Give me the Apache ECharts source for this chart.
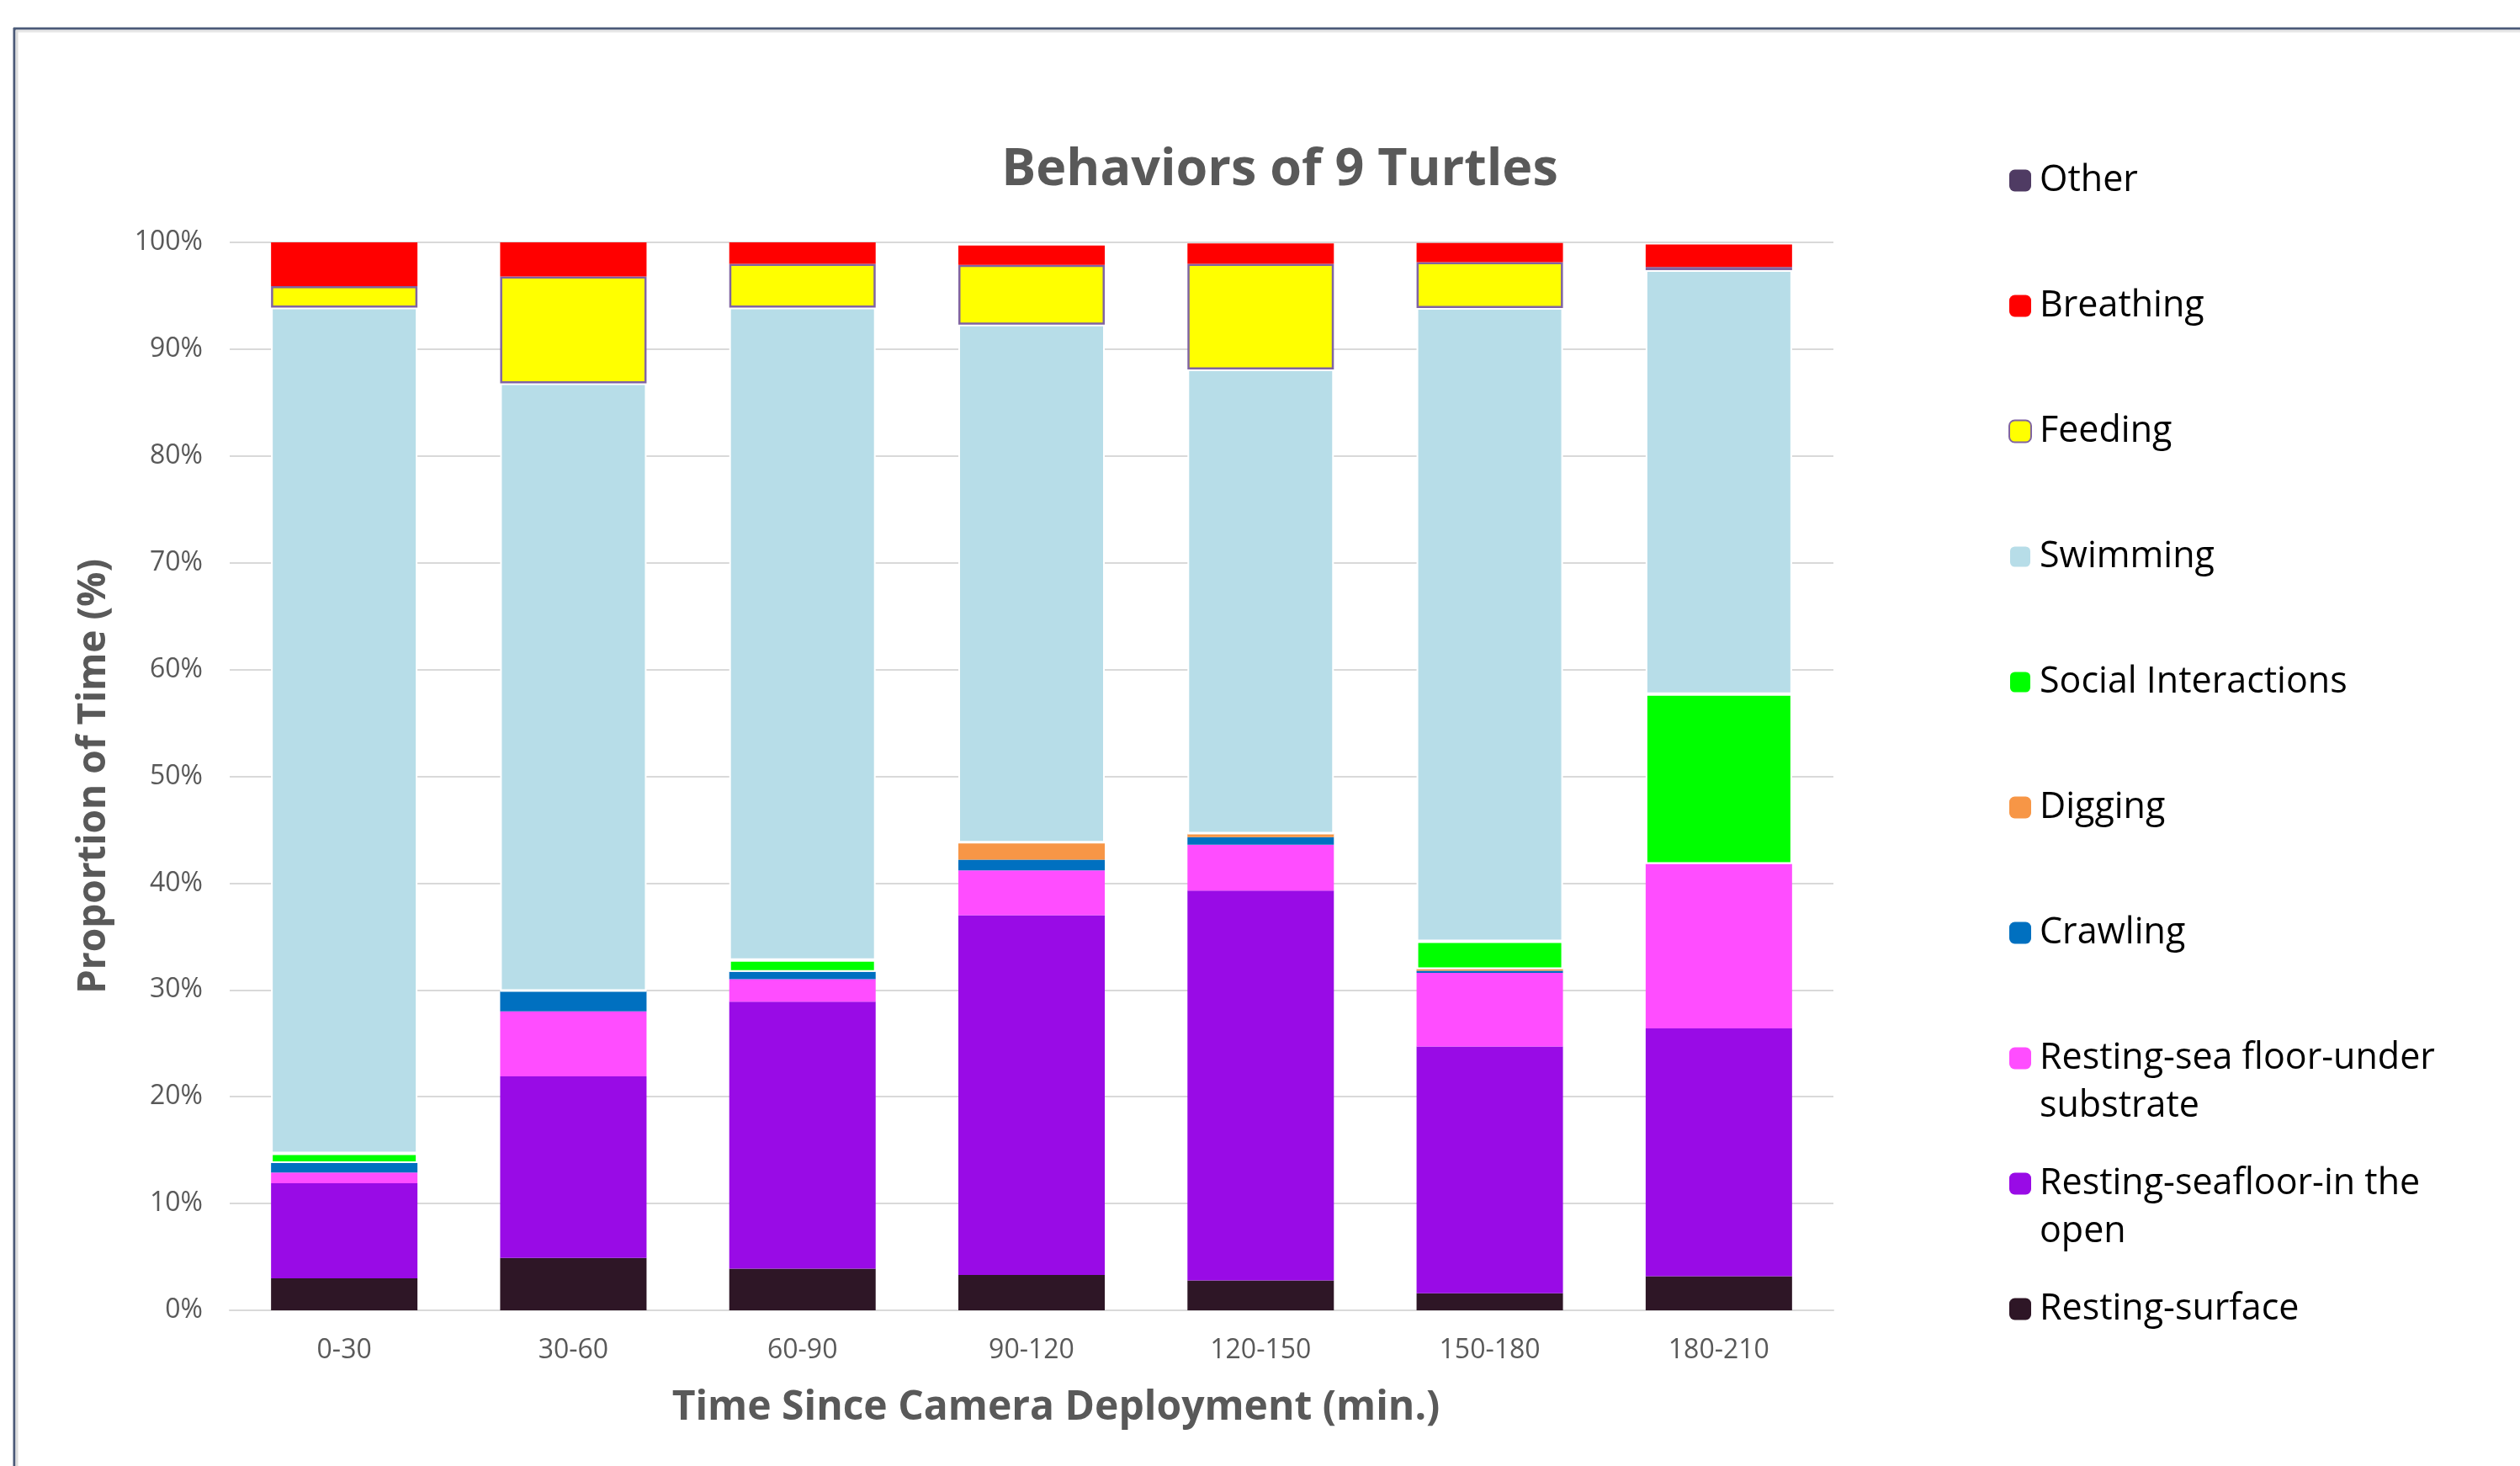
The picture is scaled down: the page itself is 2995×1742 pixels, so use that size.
<!DOCTYPE html>
<html>
<head>
<meta charset="utf-8">
<title>Behaviors of 9 Turtles</title>
<script src="https://cdn.jsdelivr.net/npm/echarts@6/dist/echarts.min.js"></script>
<style>
  html, body { margin: 0; padding: 0; background: #fff; }
  #chart { width: 2995px; height: 1742px; }
</style>
</head>
<body>
<div id="chart"></div>
<script>
  // time bins (minutes since camera deployment)
  var categories = ['0-30', '30-60', '60-90', '90-120', '120-150', '150-180', '180-210'];

  // proportion of time (%) per behaviour
  var restingSurface = [3.0, 4.9, 3.9, 3.3, 2.8, 1.6, 3.2];
  var restingOpen = [8.9, 17.0, 25.0, 33.7, 36.5, 23.1, 23.2];
  var restingUnder = [1.0, 6.1, 2.1, 4.2, 4.3, 6.9, 15.4];
  var crawling = [0.9, 1.9, 0.7, 1.0, 0.7, 0.2, 0];
  var digging = [0, 0, 0, 1.6, 0.35, 0.15, 0];
  var social = [0.9, 0, 1.1, 0, 0, 2.6, 15.9];
  var swimming = [79.2, 56.9, 61.1, 48.5, 43.45, 59.3, 39.7];
  var feeding = [2.0, 10.0, 4.1, 5.6, 9.9, 4.3, 0.3];
  var breathing = [4.1, 3.2, 2.0, 1.8, 1.9, 1.8, 2.1];
  var other = [0, 0, 0, 0, 0, 0, 0];

  var yTicks = [0, 10, 20, 30, 40, 50, 60, 70, 80, 90, 100];

  var FONT = '"Open Sans", "Liberation Sans", sans-serif';
  var GREY = '#595959';

  // stacking order, bottom first
  var layers = [
    { name: 'Resting-surface', data: restingSurface, color: '#2E1626' },
    { name: 'Resting-seafloor-in the open', data: restingOpen, color: '#990BE6', label: 'Resting-seafloor-in the\nopen' },
    { name: 'Resting-sea floor-under substrate', data: restingUnder, color: '#FF4DFF', label: 'Resting-sea floor-under\nsubstrate' },
    { name: 'Crawling', data: crawling, color: '#0070C0' },
    { name: 'Digging', data: digging, color: '#F79646' },
    { name: 'Social Interactions', data: social, color: '#00FF00', border: '#FFFFFF', bw: 2 },
    { name: 'Swimming', data: swimming, color: '#B7DDE8', border: '#FFFFFF', bw: 2 },
    { name: 'Feeding', data: feeding, color: '#FFFF00', border: '#8064A2', bw: 2.5 },
    { name: 'Breathing', data: breathing, color: '#FF0000' },
    { name: 'Other', data: other, color: '#4F3B63' }
  ];

  var labelOf = {};
  var series = layers.map(function (l) {
    labelOf[l.name] = l.label || l.name;
    return {
      name: l.name,
      type: 'bar',
      stack: 'all',
      barWidth: 174,
      data: l.data,
      itemStyle: {
        color: l.color,
        borderColor: l.border || l.color,
        borderWidth: l.bw || 0
      }
    };
  });

  var legendNames = layers.map(function (l) { return l.name; }).reverse();

  var chart = echarts.init(document.getElementById('chart'));
  chart.setOption({
    backgroundColor: '#fff',
    animation: false,
    title: {
      text: 'Behaviors of 9 Turtles',
      left: 1521,
      top: 172,
      textAlign: 'center',
      padding: 0,
      textStyle: { fontFamily: FONT, fontSize: 61, fontWeight: 'bold', color: GREY }
    },
    legend: {
      orient: 'vertical',
      left: 2387,
      top: 129,
      padding: 0,
      itemGap: -22,
      itemWidth: 26,
      itemHeight: 26,
      data: legendNames,
      // blank first line keeps the icon level with the first text line
      formatter: function (name) {
        var t = labelOf[name];
        return ' \n' + t + (t.indexOf('\n') < 0 ? '\n ' : '');
      },
      textStyle: { fontFamily: FONT, fontSize: 43, lineHeight: 57, color: '#000', padding: [0, 0, 0, 5] }
    },
    grid: { left: 273, right: 816, top: 288, bottom: 185 },
    xAxis: {
      type: 'category',
      data: categories,
      name: 'Time Since Camera Deployment (min.)',
      nameLocation: 'middle',
      nameGap: 92,
      nameTextStyle: { fontFamily: FONT, fontSize: 48, fontWeight: 'bold', color: GREY, padding: [0, 0, 0, 58] },
      axisLine: { lineStyle: { color: '#D9D9D9', width: 2 } },
      axisTick: { show: false },
      axisLabel: { margin: 32, fontFamily: FONT, fontSize: 32, color: GREY }
    },
    yAxis: {
      type: 'value',
      min: yTicks[0],
      max: yTicks[yTicks.length - 1],
      interval: 10,
      name: 'Proportion of Time (%)',
      nameLocation: 'middle',
      nameGap: 138,
      nameTextStyle: { fontFamily: FONT, fontSize: 46, fontWeight: 'bold', color: GREY },
      axisLine: { show: false },
      axisTick: { show: false },
      splitLine: { lineStyle: { color: '#D9D9D9', width: 2 } },
      axisLabel: { margin: 32, fontFamily: FONT, fontSize: 32, color: GREY, formatter: '{value}%' }
    },
    // frame of the original chart area
    graphic: [
      { type: 'line', shape: { x1: 16, y1: 34, x2: 2995, y2: 34 }, style: { stroke: '#4B5A78', lineWidth: 3 } },
      { type: 'line', shape: { x1: 17, y1: 33, x2: 17, y2: 1742 }, style: { stroke: '#4B5A78', lineWidth: 3 } },
      { type: 'line', shape: { x1: 19, y1: 37, x2: 2995, y2: 37 }, style: { stroke: '#E6E6E6', lineWidth: 3 } },
      { type: 'line', shape: { x1: 20, y1: 36, x2: 20, y2: 1742 }, style: { stroke: '#DDDDDD', lineWidth: 3 } }
    ],
    series: series
  });
</script>
</body>
</html>
